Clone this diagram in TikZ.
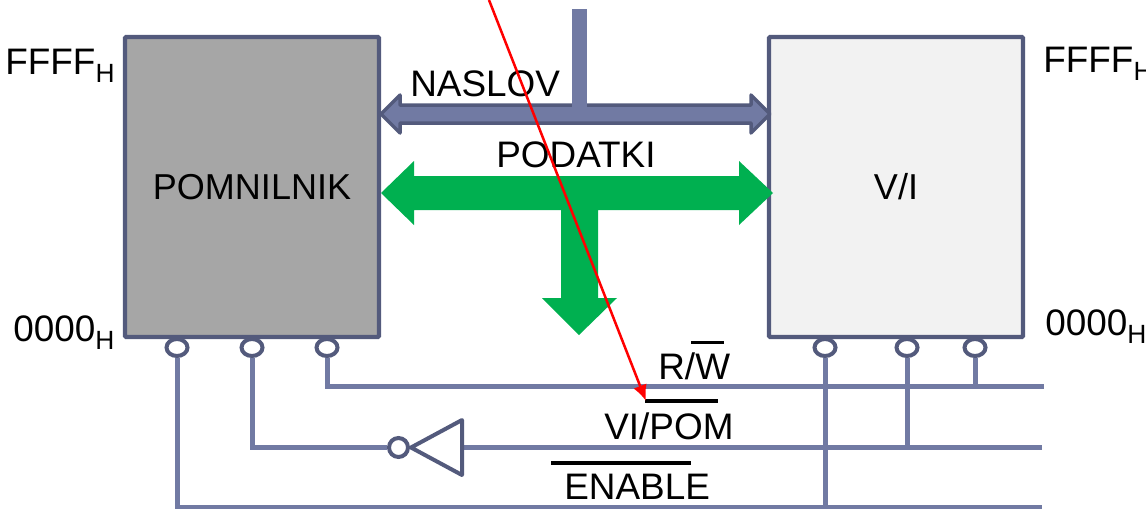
\documentclass[tikz,border=0pt]{standalone}
\usepackage{fontspec}
\setmainfont{Liberation Sans}
\usetikzlibrary{arrows.meta,shapes.geometric}
\definecolor{busfill}{HTML}{717AA3}
\definecolor{busedge}{HTML}{535A7C}
\definecolor{datagreen}{HTML}{00B050}
\def\hexsub{\raisebox{-0.24em}{\fontsize{15}{15}\selectfont H}}
\tikzset{
	memblock/.style={draw=busedge, line width=0.085cm, rounded corners=0.02cm, minimum width=5.08cm, minimum height=6cm, inner sep=0pt, font=\fontsize{20.5}{25}\selectfont},
	pin/.style={ellipse, draw=busedge, fill=white, line width=0.08cm, minimum width=0.42cm, minimum height=0.34cm, inner sep=0pt},
	notpin/.style={circle, draw=busedge, fill=white, line width=0.08cm, minimum size=0.38cm, inner sep=0pt},
	wire/.style={draw=busfill, line width=0.1cm},
	txt/.style={anchor=base west, inner sep=0pt, font=\fontsize{21}{25}\selectfont},
	bar/.style={draw=black, line width=0.075cm}
}
\begin{document}
\begin{tikzpicture}[x=0.02cm, y=-0.02cm]
			%%%%% START %%%%%
			\useasboundingbox (0, 0) rectangle (1146, 508);
			
			\node[memblock, fill=black!35] (mem) at (252, 187) {POMNILNIK};
			\node[memblock, fill=black!5] (io) at (896, 187) {V/I};
			
			\node[txt] (memtop) at (5, 74) {FFFF\hexsub};
			\node[txt] (memlow) at (13, 341) {0000\hexsub};
			\node[txt] (iotop) at (1043, 72) {FFFF\hexsub};
			\node[txt] (iolow) at (1045, 335) {0000\hexsub};
			
			% address bus
			\draw[busedge, fill=busfill, line width=0.07cm, line join=round] (381, 114) -- (400, 95) -- (400, 105) -- (751, 105) -- (751, 95) -- (770, 114) -- (751, 133) -- (751, 123) -- (400, 123) -- (400, 133) -- cycle;
			\fill[busfill] (572, 9) rectangle (587, 108);
			\node[txt] (naslov) at (410, 96) {NASLOV};
			
			% data bus
			\fill[datagreen] (381, 193) -- (414, 161) -- (414, 176) -- (739, 176) -- (739, 161) -- (773, 193) -- (739, 225) -- (739, 210) -- (598, 210) -- (598, 298) -- (617, 298) -- (579, 335) -- (542, 298) -- (561, 298) -- (561, 210) -- (414, 210) -- (414, 225) -- cycle;
			\node[txt] (podatki) at (496, 167) {PODATKI};
			
			% pins
			\node[pin] (mema) at (177, 347.5) {};
			\node[pin] (memb) at (252, 347.5) {};
			\node[pin] (memc) at (327, 347.5) {};
			\node[pin] (ioa) at (825, 347.5) {};
			\node[pin] (iob) at (907, 347.5) {};
			\node[pin] (ioc) at (975, 347.5) {};
			
			% control lines
			\coordinate (rwend) at (1044, 386.5);
			\coordinate (selend) at (1042, 447.5);
			\coordinate (enend) at (1042, 507.5);
			\coordinate (gatein) at (462, 447.5);
			\coordinate (gatetop) at (462, 420);
			\coordinate (gatelow) at (462, 475);
			\coordinate (gatetip) at (411, 447.5);
			
			\draw[wire] (memc.south) |- (rwend);
			\draw[wire] (mema.south) |- (enend);
			\draw[wire] (ioa.south) -- (ioa.south |- enend);
			\draw[wire] (iob.south) -- (iob.south |- selend);
			\draw[wire] (ioc.south) -- (ioc.south |- rwend);
			\draw[wire] (selend) -- (gatein);
			
			\draw[busedge, fill=white, line width=0.08cm, line join=round] (gatetop) -- (gatelow) -- (gatetip) -- cycle;
			\node[notpin] (gatenot) at (398.5, 447.5) {};
			\draw[wire] (gatenot.west) -| (memb.south);
			
			% labels of the control lines
			\node[txt] (rwlab) at (658, 379) {R/W};
			\draw[bar] (691, 342.5) -- (724, 342.5);
			\node[txt] (sellab) at (604, 439) {VI/POM};
			\draw[bar] (645, 401) -- (718, 401);
			\node[txt] (enlab) at (564, 499) {ENABLE};
			\draw[bar] (551, 463) -- (691, 463);
			
			% red pointer
			\coordinate (ptrtop) at (489, 0);
			\coordinate (ptrtip) at (646, 401);
			\draw[red, line width=0.05cm, -{Latex[length=0.32cm, width=0.28cm]}] (ptrtop) -- (ptrtip);
			
			%%%%% END %%%%%
		\end{tikzpicture}
\end{document}
